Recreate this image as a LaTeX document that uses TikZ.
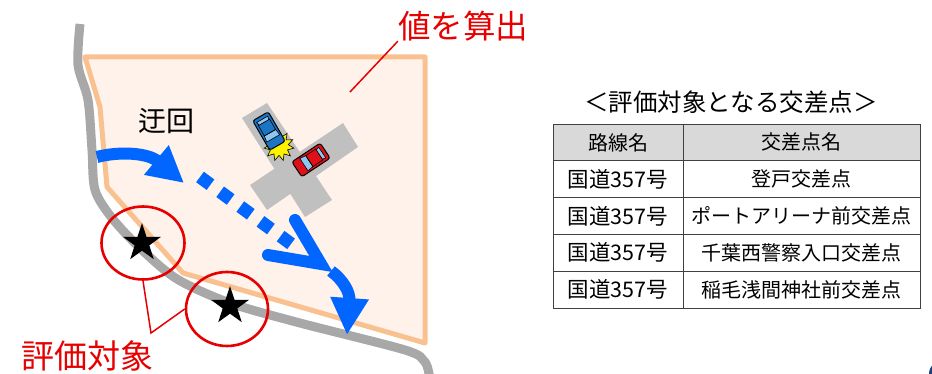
\documentclass[tikz,border=0pt]{standalone}
\usepackage{fontspec}
\setmainfont{Noto Sans CJK JP}
\usetikzlibrary{shapes.geometric,arrows.meta}
\definecolor{roadgray}{HTML}{A8A8A8}
\definecolor{areafill}{HTML}{FEF2EA}
\definecolor{areaedge}{HTML}{F9C190}
\definecolor{crossgray}{HTML}{C0C0C0}
\definecolor{routeblue}{HTML}{0066FF}
\definecolor{markred}{HTML}{E60000}
\definecolor{carblue}{HTML}{1C74C4}
\definecolor{carred}{HTML}{E01018}
\definecolor{glassblue}{HTML}{8CC8F0}
\definecolor{headgray}{HTML}{D9D9D9}
\definecolor{rulegray}{HTML}{404040}
\definecolor{navy}{HTML}{1F3F7F}
\tikzset{
  pics/car/.style={code={
    \filldraw[fill=#1,draw=black,line width=1pt,rounded corners=2.5pt] (-17,-9) rectangle (17,9);
    \filldraw[fill=glassblue,draw=black,line width=0.6pt] (2,-6.5) -- (8.5,-7.5) -- (8.5,7.5) -- (2,6.5) -- cycle;
    \draw[black,line width=0.6pt] (-10,-6.5) rectangle (2,6.5);
    \filldraw[fill=glassblue,draw=black,line width=0.6pt] (-10,-5.5) -- (-13.5,-6.5) -- (-13.5,6.5) -- (-10,5.5) -- cycle;
  }},
  route/.style={routeblue,line width=12pt},
  evalmark/.style={draw=markred,line width=2.6pt,ellipse,inner sep=0pt},
  starmark/.style={star,star points=5,star point ratio=2.6,fill=black,inner sep=0pt,minimum size=40pt},
  cell/.style={draw=rulegray,line width=0.8pt,minimum height=36.8pt,inner sep=0pt,font=\fontsize{20}{24}\selectfont},
  namecol/.style={cell,minimum width=130pt,font=\fontsize{21.5}{24}\selectfont},
  pointcol/.style={cell,minimum width=237pt},
}
\begin{document}
\begin{tikzpicture}[x=1pt,y=-1pt]
  \useasboundingbox (0,0) rectangle (932,374);
  \draw[roadgray,line width=9pt,line join=round] plot[smooth,tension=0.5] coordinates
    {(80,24) (78,65) (88,100) (92,150) (95,190) (112,218) (140,248) (177,279) (230,303) (300,323) (405,350) (425,362) (430,380)};
  \filldraw[fill=areafill,draw=areaedge,line width=5pt,line join=round]
    (85,57) -- (425,57) -- (425,343) -- (183,273) -- (107,187) -- (100,107) -- cycle;
  \fill[crossgray] (242,118) -- (267,103) -- (332,200) -- (305,217) -- cycle;
  \fill[crossgray] (250,185) -- (267,210) -- (358,147) -- (343,123) -- cycle;
  \draw[route,-{Triangle[length=36pt,width=36pt]}] (97,157) .. controls (120,151) and (148,153) .. (184,183);
  \draw[routeblue,line width=13pt,dash pattern=on 13pt off 12pt] (200,177) -- (294,246);
  \draw[route,line cap=round] (295,220) -- (321,264) -- (268,255);
  \draw[route,-{Triangle[length=37pt,width=36pt]}] (331,271) .. controls (343,280) and (350,292) .. (347,335);
  \node[star,star points=11,star point ratio=1.6,fill=yellow,draw=black,line width=0.6pt,minimum size=30pt,inner sep=0pt] (crash) at (279,146) {};
  \pic[rotate=-60] (bluecar) at (269,131) {car=carblue};
  \pic[rotate=-146.5] (redcar) at (311,160) {car=carred};
  \node[evalmark,minimum width=83pt,minimum height=73pt] (evalA) at (143,243) {};
  \node[evalmark,minimum width=82pt,minimum height=74pt] (evalB) at (227,309) {};
  \node[starmark] (starA) at (142,243) {};
  \node[starmark] (starB) at (230,306) {};
  \coordinate (knee) at (151,333);
  \draw[markred,line width=1.5pt] (evalA.south) -- (knee) -- (evalB.west);
  \node[text=markred,font=\fontsize{33}{38}\selectfont,inner sep=0pt] (evaltext) at (87,356) {評価対象};
  \node[text=markred,font=\fontsize{32.5}{38}\selectfont,inner sep=0pt] (calc) at (463,26) {値を算出};
  \coordinate (calcpt) at (350,92);
  \draw[markred,line width=1.5pt] (calcpt) -- (calc.south west);
  \node[font=\fontsize{28}{32}\selectfont,inner sep=0pt] (detour) at (166,121) {迂回};
  \node[font=\fontsize{24.5}{28}\selectfont,inner sep=0pt] (title) at (731,102) {＜評価対象となる交差点＞};
  \node[namecol,fill=headgray,font=\fontsize{20}{24}\selectfont] (h1) at (618,142.4) {路線名};
  \node[pointcol,fill=headgray] (h2) at (801.5,142.4) {交差点名};
  \node[namecol] (r1) at (618,179.2) {国道357号};
  \node[pointcol] (p1) at (801.5,179.2) {登戸交差点};
  \node[namecol] (r2) at (618,216) {国道357号};
  \node[pointcol] (p2) at (801.5,216) {ポートアリーナ前交差点};
  \node[namecol] (r3) at (618,252.8) {国道357号};
  \node[pointcol] (p3) at (801.5,252.8) {千葉西警察入口交差点};
  \node[namecol] (r4) at (618,289.6) {国道357号};
  \node[pointcol] (p4) at (801.5,289.6) {稲毛浅間神社前交差点};
  \fill[navy] (943,374) circle (14pt);
\end{tikzpicture}
\end{document}
